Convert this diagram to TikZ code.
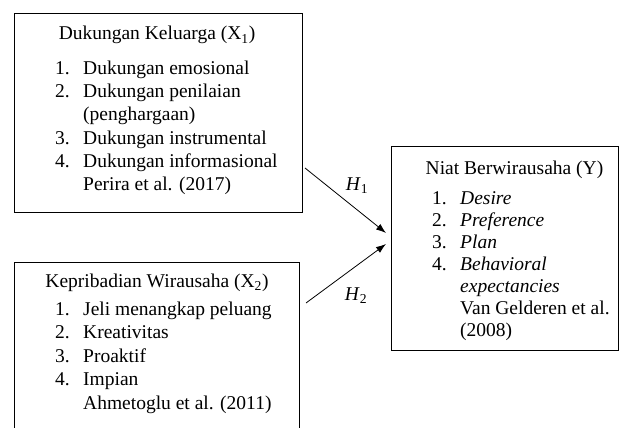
\documentclass[tikz,border=0pt]{standalone}
\usepackage{fontspec}
\setmainfont{Liberation Serif}
\usetikzlibrary{arrows.meta}
\begin{document}
\begin{tikzpicture}[x=1pt,y=-1pt,
  box/.style={draw, line width=0.9pt, inner sep=0pt, anchor=north west},
  txt/.style={anchor=base west, inner sep=0pt, font=\fontsize{19.5}{23}\selectfont},
  ttl/.style={anchor=base, inner sep=0pt, font=\fontsize{19.5}{23}\selectfont},
  hlab/.style={inner sep=0pt, font=\fontsize{19.5}{23}\selectfont},
  conn/.style={-{Latex[length=10pt,width=7pt]}, line width=0.8pt}]
\useasboundingbox (0,0) rectangle (619,428);
% boxes
\node[box, minimum width=288pt, minimum height=199pt] (b1) at (14,13) {};
\node[box, minimum width=285pt, minimum height=185pt] (b2) at (14,262) {};
\node[box, minimum width=227pt, minimum height=204pt] (b3) at (391,146) {};
% box 1 text
\node[ttl] (t1) at (157,40) {Dukungan Keluarga (X\textsubscript{1})};
\node[txt] (a1n) at (55,75) {1.};
\node[txt] (a1) at (83,75) {Dukungan emosional};
\node[txt] (a2n) at (55,98) {2.};
\node[txt] (a2) at (83,98) {Dukungan penilaian};
\node[txt] (a2b) at (83,121) {(penghargaan)};
\node[txt] (a3n) at (55,144) {3.};
\node[txt] (a3) at (83,144) {Dukungan instrumental};
\node[txt] (a4n) at (55,167) {4.};
\node[txt] (a4) at (83,167) {Dukungan informasional};
\node[txt] (a5) at (83,190) {Perira et al. (2017)};
% box 2 text
\node[ttl] (t2) at (157,287) {Kepribadian Wirausaha (X\textsubscript{2})};
\node[txt] (c1n) at (55,315) {1.};
\node[txt] (c1) at (83,315) {Jeli menangkap peluang};
\node[txt] (c2n) at (55,338.5) {2.};
\node[txt] (c2) at (83,338.5) {Kreativitas};
\node[txt] (c3n) at (55,362) {3.};
\node[txt] (c3) at (83,362) {Proaktif};
\node[txt] (c4n) at (55,385.5) {4.};
\node[txt] (c4) at (83,385.5) {Impian};
\node[txt] (c5) at (83,409) {Ahmetoglu et al. (2011)};
% box 3 text
\node[ttl] (t3) at (514.5,174) {Niat Berwirausaha (Y)};
\node[txt] (d1n) at (432,204) {1.};
\node[txt] (d1) at (460,204) {\textit{Desire}};
\node[txt] (d2n) at (432,226) {2.};
\node[txt] (d2) at (460,226) {\textit{Preference}};
\node[txt] (d3n) at (432,248) {3.};
\node[txt] (d3) at (460,248) {\textit{Plan}};
\node[txt] (d4n) at (432,270) {4.};
\node[txt] (d4) at (460,270) {\textit{Behavioral}};
\node[txt] (d4b) at (460,292) {\textit{expectancies}};
\node[txt] (d5) at (460,314) {Van Gelderen et al.};
\node[txt] (d6) at (460,336) {(2008)};
% connectors
\coordinate (s1) at (305,168);
\coordinate (e1) at (386,233);
\coordinate (s2) at (306,303);
\coordinate (e2) at (386,244);
\draw[conn] (s1) -- (e1);
\draw[conn] (s2) -- (e2);
\node[hlab] (h1) at (357,186) {\textit{H}\textsubscript{1}};
\node[hlab] (h2) at (356,296) {\textit{H}\textsubscript{2}};
\end{tikzpicture}
\end{document}
